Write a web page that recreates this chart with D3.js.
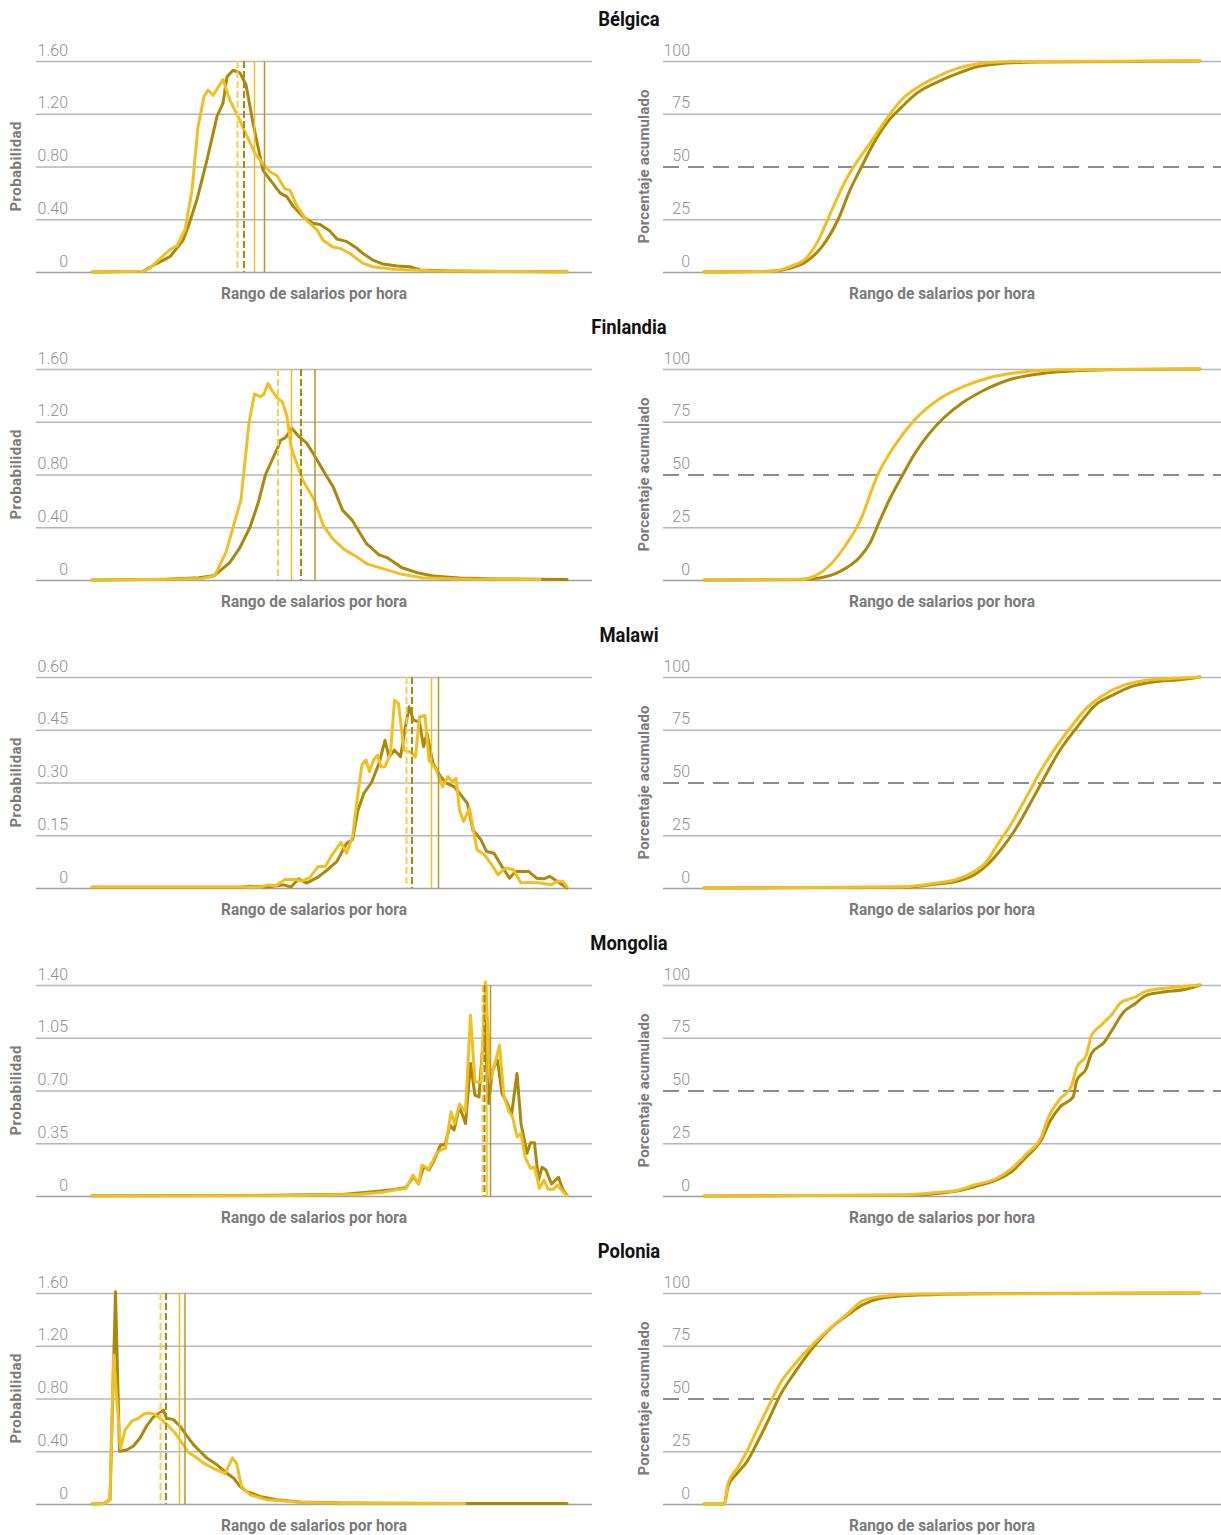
<!DOCTYPE html>
<html>
<head>
<meta charset="utf-8">
<script src="https://cdn.jsdelivr.net/npm/d3@7"></script>
<style>
  body { margin: 0; background: #fff; }
  svg { display: block; }
  .tick-label { font-family: Roboto, "Open Sans", sans-serif; font-weight: 300; font-size: 16px; fill: #8f8f8f; }
  .axis-title { font-family: Roboto, "Liberation Sans Narrow", sans-serif; font-weight: bold; font-size: 16px; fill: #7a7a7a; }
  .y-title { font-size: 15px; }
  .panel-title { font-family: Roboto, "Liberation Sans Narrow", sans-serif; font-weight: bold; font-size: 20px; fill: #111; }
</style>
</head>
<body>
<svg id="chart" width="1221" height="1535"></svg>
<script>
// ---- Data -------------------------------------------------------------
// x values are wage-range bins (0-95); A = dark series, B = light series
const countries = ["Bélgica", "Finlandia", "Malawi", "Mongolia", "Polonia"];
const densityTicks = [
  [0, 0.40, 0.80, 1.20, 1.60],
  [0, 0.40, 0.80, 1.20, 1.60],
  [0, 0.15, 0.30, 0.45, 0.60],
  [0, 0.35, 0.70, 1.05, 1.40],
  [0, 0.40, 0.80, 1.20, 1.60]
];
const cumulativeTicks = [0, 25, 50, 75, 100];

// medians (dashed) and means (solid), in bins
const medianA = [30.4, 41.8, 64.0, 78.5, 14.8];
const medianB = [29.1, 37.2, 62.9, 78.1, 13.7];
const meanA   = [34.5, 44.6, 69.3, 79.7, 18.6];
const meanB   = [32.5, 39.9, 67.9, 79.0, 17.5];

const belgicaDensA = [[0,0],[10.2,0.005],[13,0.066],[15.6,0.116],[18.2,0.24],[19.2,0.34],[21,0.55],[23,0.85],[25,1.18],[26.2,1.28],[27,1.48],[28.2,1.53],[29.6,1.51],[30.8,1.42],[32.2,1.13],[33.2,0.95],[34.2,0.77],[35.6,0.70],[37.6,0.60],[39,0.57],[40.2,0.50],[42.2,0.42],[44.2,0.37],[45.6,0.36],[47.6,0.31],[49,0.25],[51,0.23],[53,0.18],[54.2,0.14],[56.2,0.09],[58.2,0.06],[61,0.045],[63.6,0.04],[65.6,0.015],[71.6,0.008],[81.6,0.004],[95,0.002]];
const belgicaDensB = [[0,0],[10.2,0.005],[11.6,0.03],[13,0.08],[15.6,0.17],[17,0.20],[18.6,0.32],[20,0.62],[21.2,1.10],[22.4,1.33],[23.2,1.38],[24.2,1.34],[26.2,1.46],[27.6,1.30],[29.2,1.18],[31,1.03],[32.6,0.90],[34.2,0.82],[35.6,0.76],[37,0.73],[38.6,0.63],[39.6,0.62],[41,0.50],[43,0.39],[45,0.32],[46.2,0.24],[48.2,0.19],[49.6,0.18],[51.6,0.14],[54.2,0.066],[56.2,0.04],[60.2,0.02],[67.6,0.01],[81.6,0.004],[95,0.002]];

const finlandiaDensA = [[0,0],[15,0.005],[21.4,0.018],[24.5,0.035],[27.5,0.13],[29.5,0.24],[31.6,0.40],[33.2,0.58],[34.7,0.80],[37.1,1.0],[37.7,1.06],[38.7,1.08],[40.0,1.15],[41.3,1.09],[42.9,1.04],[44.4,0.95],[46.7,0.80],[48.2,0.71],[50.1,0.53],[52.1,0.45],[54.8,0.28],[57.4,0.19],[59,0.17],[62,0.093],[65.1,0.055],[68.2,0.03],[73.5,0.015],[81.2,0.008],[95,0.004]];
const finlandiaDensB = [[0,0],[15,0.005],[22,0.012],[24.5,0.03],[26.8,0.21],[28.3,0.41],[29.8,0.61],[31.4,1.19],[32.5,1.41],[33.7,1.39],[34.4,1.41],[35.2,1.49],[36.1,1.43],[37.1,1.38],[38.1,1.35],[39.0,1.24],[39.8,1.01],[40.9,0.89],[42.1,0.76],[44.4,0.61],[46.3,0.41],[48.2,0.31],[50.5,0.23],[52.8,0.18],[55.1,0.12],[58.2,0.086],[62,0.043],[65.9,0.018],[73.5,0.008],[89.6,0.003]];

const malawiDensA = [[0,0.002],[30,0.002],[31.4,0.005],[35.2,0.003],[38.3,0.009],[39.8,0.003],[41.3,0.026],[42.9,0.014],[45.2,0.031],[47.1,0.052],[49.0,0.076],[50.9,0.127],[52.1,0.137],[53.2,0.222],[54.4,0.27],[55.9,0.30],[57.4,0.354],[58.6,0.42],[59.4,0.373],[60.5,0.392],[61.7,0.373],[62.8,0.468],[63.4,0.515],[64.3,0.477],[65.5,0.472],[66.3,0.402],[67.0,0.44],[68.2,0.354],[69.7,0.317],[70.9,0.298],[72.4,0.288],[73.5,0.27],[75.1,0.24],[76.2,0.165],[77.8,0.137],[78.9,0.104],[80.4,0.099],[82,0.061],[83.5,0.028],[84.7,0.047],[87.3,0.047],[88.9,0.028],[90.4,0.026],[91.6,0.033],[93.5,0.014],[95,0]];
const malawiDensB = [[0,0.003],[16.8,0.003],[30.6,0.003],[33.7,0.003],[35.2,0.009],[36.7,0.006],[38.6,0.024],[40.6,0.024],[42.1,0.02],[43.6,0.03],[45.2,0.061],[46.7,0.061],[47.8,0.09],[49.8,0.13],[50.9,0.099],[52.1,0.146],[53.2,0.269],[54,0.35],[54.8,0.364],[55.5,0.331],[56.3,0.364],[57.1,0.378],[57.8,0.345],[58.6,0.345],[59.7,0.383],[60.5,0.534],[61.3,0.524],[62.4,0.392],[63.6,0.387],[64.7,0.373],[65.5,0.487],[66.6,0.491],[67.4,0.364],[68.9,0.335],[70.1,0.288],[71.2,0.317],[72,0.302],[72.8,0.312],[73.5,0.222],[74.3,0.189],[75.5,0.227],[77,0.109],[78.5,0.094],[79.7,0.071],[81.2,0.038],[82.7,0.057],[84.3,0.052],[85.8,0.014],[87.3,0.016],[89.6,0.014],[91.9,0.009],[93.1,0.019],[94.2,0.019],[95,0.004]];

const mongoliaDensA = [[0,0.002],[30,0.003],[40,0.006],[50.5,0.012],[55.1,0.025],[58.2,0.035],[60.5,0.044],[62.8,0.057],[64.3,0.128],[65.3,0.08],[66.3,0.194],[67.4,0.172],[68.6,0.25],[69.7,0.338],[70.6,0.338],[71.6,0.47],[72.4,0.437],[73.5,0.592],[74.7,0.481],[75.7,0.879],[76.6,0.669],[77.4,0.658],[78.5,1.166],[79.3,0.614],[80.1,0.835],[81.1,0.901],[82,0.68],[83.1,0.614],[83.9,0.537],[85,0.813],[85.8,0.481],[87,0.283],[87.7,0.353],[88.5,0.353],[89.3,0.106],[90,0.19],[90.8,0.172],[91.9,0.08],[93.3,0.124],[94.2,0.04],[95,0.004]];
const mongoliaDensB = [[0,0.002],[30,0.002],[40,0.004],[50.5,0.01],[53.6,0.012],[58.2,0.025],[60.5,0.04],[62.8,0.05],[64.2,0.139],[65.3,0.08],[66,0.205],[67.3,0.177],[68.9,0.283],[69.7,0.305],[70.7,0.316],[71.8,0.559],[72.5,0.481],[73.5,0.61],[74.7,0.559],[75.7,1.199],[76.6,0.757],[77.8,0.757],[78.7,1.42],[79.7,0.768],[80.4,0.857],[81.5,1.0],[82.4,0.658],[83.4,0.559],[84.1,0.526],[85,0.393],[85.8,0.415],[86.6,0.26],[87.7,0.183],[88.5,0.194],[89.5,0.051],[90.4,0.106],[91.2,0.044],[92.3,0.044],[93.1,0.073],[94.2,0.029],[95,0]];

const poloniaDensA = [[0,0],[2.3,0.003],[3.6,0.033],[4.7,1.61],[5.5,0.40],[6.9,0.41],[8.3,0.44],[9.6,0.50],[10.9,0.59],[12.3,0.66],[13.5,0.69],[14.3,0.71],[14.9,0.65],[16.3,0.64],[17.6,0.59],[18.9,0.52],[20.3,0.45],[21.6,0.40],[22.9,0.35],[24.9,0.30],[26.9,0.235],[28.3,0.197],[29.6,0.134],[30.9,0.096],[33.6,0.058],[36.9,0.033],[41.6,0.015],[50,0.008],[70,0.004],[95,0.003]];
const poloniaDensB = [[0,0],[2.3,0.003],[3.6,0.033],[4.3,1.13],[5.7,0.42],[6.6,0.56],[8,0.63],[9.3,0.65],[10.3,0.68],[11.3,0.69],[12.6,0.68],[13.9,0.64],[15.3,0.59],[16.6,0.54],[17.9,0.47],[19.3,0.39],[20.6,0.36],[22.3,0.31],[24.3,0.27],[26.6,0.23],[28.1,0.35],[28.9,0.31],[29.9,0.134],[31.6,0.07],[34.9,0.033],[41.6,0.013],[50,0.006],[74.6,0.003]];

const belgicaCumA = [[0,0],[12.8,0.3],[16.6,1.9],[19.6,5],[22.6,12],[25.7,25],[28,39],[30.2,50],[32.5,61],[34.8,70],[37.8,78],[40.9,85],[44.7,90],[48.5,94],[52.3,97.3],[56.1,98.6],[63.7,99.5],[95,100]];
const belgicaCumB = [[0,0],[12.8,0.3],[16.6,2.7],[19.6,6.6],[21.9,15],[24.5,29.5],[27.2,43.7],[29.5,53],[31.8,61],[34.8,72],[37.8,81.5],[40.9,87.5],[44.7,92.6],[48.5,96.5],[52.3,98.6],[56.1,99.5],[63.7,99.8],[95,100]];

const finlandiaCumA = [[0,0],[18.4,0.2],[22.2,1],[26,4],[29.9,11],[31.8,17.5],[33.3,26],[35.6,38.5],[38.1,50],[40.4,60],[43,69],[46,77],[49.5,84],[52.9,89],[58.6,95],[64.4,97.8],[72,99.3],[79.7,99.8],[95,100]];
const finlandiaCumB = [[0,0],[18.4,0.3],[21.3,2],[24.1,7],[27,16],[29.9,28],[33.3,50],[36.6,64],[40.4,76],[45.2,86],[50,92],[54.8,96],[60.5,98.5],[68.2,99.6],[95,100]];

const malawiCumA = [[0,0],[37.5,0.3],[44.6,1.9],[48.2,3.1],[51.8,6.3],[54.6,11.8],[56.8,18],[59.6,27.6],[63.2,43.3],[65.3,52.8],[68.2,65.4],[71,74.8],[75.3,87.4],[78.2,91.3],[81.7,95.3],[86,97.6],[91,98.7],[95,100]];
const malawiCumB = [[0,0],[37.5,0.5],[44.6,2.4],[48.2,3.9],[51.8,7.9],[53.9,11.8],[56,19.7],[58.9,30.7],[62.5,46.5],[64.6,56],[67.5,67],[70.3,76.4],[73.2,85],[76,90.6],[80.3,96],[83.9,98.1],[88.9,99.2],[95,100]];

const mongoliaCumA = [[0,0],[37.5,0.3],[48.2,2.2],[51.8,4.4],[56,7.6],[58.9,11.5],[61.8,18.6],[64.6,26.5],[66.4,36],[68.2,42.2],[70.7,47],[71.4,54.8],[73.2,60.3],[74.2,67.4],[76.7,73],[78.5,80],[80.3,87],[82.5,91],[84.6,95],[87.5,96.5],[92.5,98.1],[95,100]];
const mongoliaCumB = [[0,0],[37.5,0.5],[44.6,1.7],[48.2,2.5],[51.8,5.2],[56,8.3],[58.9,13],[61.8,20],[64.6,28],[66,37.5],[68.2,46],[70.3,51.7],[71.4,61],[73.2,66.6],[74.2,76],[76,80.8],[78.2,86.3],[79.9,91.8],[82.5,94.2],[84.6,97],[88.9,98.6],[95,100]];

const poloniaCumA = [[0,0],[3.9,0],[4.6,8.3],[6.4,14.6],[8.2,20],[10.3,29.6],[12.5,40.6],[14.6,51.6],[17.5,62.7],[21,74.5],[24.6,84],[27.5,89.5],[30.3,94.3],[33.9,97.5],[41,99],[51.8,99.7],[95,100]];
const poloniaCumB = [[0,0],[3.9,0],[4.6,9.9],[6.4,17],[8.2,24.9],[10.3,35.9],[12.5,47],[14.6,57.2],[17.5,66.6],[21,76],[24.6,84.3],[27.5,90.2],[30.3,96.2],[33.9,98.4],[41,99.5],[95,100]];

const densityA = [belgicaDensA, finlandiaDensA, malawiDensA, mongoliaDensA, poloniaDensA];
const densityB = [belgicaDensB, finlandiaDensB, malawiDensB, mongoliaDensB, poloniaDensB];
const cumulativeA = [belgicaCumA, finlandiaCumA, malawiCumA, mongoliaCumA, poloniaCumA];
const cumulativeB = [belgicaCumB, finlandiaCumB, malawiCumB, mongoliaCumB, poloniaCumB];

// ---- Layout -----------------------------------------------------------
const colorA = "#a9880a";
const colorB = "#f0bf22";
const rowStep = 308;
const plotTop = 61, plotBottom = 272;
const left  = { gridX0: 36,  gridX1: 592,  dataX0: 92,  dataX1: 567,  labelX: 68,  yTitleX: 21,  yTitleLen: 90 };
const right = { gridX0: 663, gridX1: 1221, dataX0: 704, dataX1: 1200, labelX: 690, yTitleX: 649, yTitleLen: 154 };
const xTitleLen = 186;     // condensed width of the x-axis title
const titleSqueeze = 0.92; // condensing factor for country titles

const svg = d3.select("#chart");
const fmtDensity = d => d === 0 ? "0" : d3.format(".2f")(d);

function drawGrid(g, panel, y, ticks, fmt, dashedValue) {
  const axis = d3.axisRight(y)
    .tickValues(ticks)
    .tickSize(panel.gridX1 - panel.gridX0)
    .tickFormat(fmt);
  const ag = g.append("g")
    .attr("transform", `translate(${panel.gridX0},0)`)
    .call(axis);
  ag.select(".domain").remove();
  ag.selectAll(".tick line")
    .attr("stroke", d => d === dashedValue ? "#8c8c8c" : (d === 0 ? "#a0a0a0" : "#b6b6b6"))
    .attr("stroke-width", d => d === dashedValue ? 2 : 1.3)
    .attr("stroke-dasharray", d => d === dashedValue ? "16,9" : null);
  ag.selectAll(".tick text")
    .attr("class", "tick-label")
    .attr("x", panel.labelX - panel.gridX0)
    .attr("y", -6)
    .attr("dy", 0)
    .attr("text-anchor", "end")
    .attr("fill", null);
  ag.attr("font-size", null).attr("font-family", null);
}

function drawTitles(g, panel, yLabel) {
  g.append("text")
    .attr("class", "axis-title")
    .attr("x", (panel.gridX0 + panel.gridX1) / 2)
    .attr("y", 299)
    .attr("text-anchor", "middle")
    .attr("textLength", xTitleLen)
    .attr("lengthAdjust", "spacingAndGlyphs")
    .text("Rango de salarios por hora");
  g.append("text")
    .attr("class", "axis-title y-title")
    .attr("transform", `translate(${panel.yTitleX},${(plotTop + plotBottom) / 2}) rotate(-90)`)
    .attr("text-anchor", "middle")
    .attr("textLength", panel.yTitleLen)
    .attr("lengthAdjust", "spacing")
    .text(yLabel);
}

countries.forEach((name, i) => {
  const row = svg.append("g").attr("transform", `translate(0,${i * rowStep})`);

  const title = row.append("text")
    .attr("class", "panel-title")
    .attr("x", 629)
    .attr("y", 26)
    .attr("text-anchor", "middle")
    .text(name);
  const natural = title.node().getComputedTextLength();
  title.attr("textLength", natural * titleSqueeze).attr("lengthAdjust", "spacingAndGlyphs");

  // --- density panel
  const ticks = densityTicks[i];
  const yD = d3.scaleLinear().domain([0, ticks[ticks.length - 1]]).range([plotBottom, plotTop]);
  const xD = d3.scaleLinear().domain([0, 95]).range([left.dataX0, left.dataX1]);
  const gL = row.append("g");
  drawGrid(gL, left, yD, ticks, fmtDensity, null);
  drawTitles(gL, left, "Probabilidad");

  const lineD = d3.line().x(d => xD(d[0])).y(d => yD(d[1]));
  [[densityA[i], colorA], [densityB[i], colorB]].forEach(([data, c]) => {
    gL.append("path")
      .datum(data)
      .attr("d", lineD)
      .attr("fill", "none")
      .attr("stroke", c)
      .attr("stroke-width", 3)
      .attr("stroke-linejoin", "round")
      .attr("stroke-linecap", "round");
  });

  const refs = [
    { v: medianB[i], color: "#f5cf55", w: 2, dash: "7,3" },
    { v: medianA[i], color: colorA,   w: 2, dash: "7,3" },
    { v: meanB[i],   color: colorB,   w: 1.5, dash: null },
    { v: meanA[i],   color: "#b8962a", w: 1.5, dash: null }
  ];
  gL.selectAll("line.ref")
    .data(refs)
    .join("line")
    .attr("class", "ref")
    .attr("x1", d => xD(d.v)).attr("x2", d => xD(d.v))
    .attr("y1", yD.range()[1]).attr("y2", yD.range()[0])
    .attr("stroke", d => d.color)
    .attr("stroke-width", d => d.w)
    .attr("stroke-dasharray", d => d.dash);

  // --- cumulative panel
  const yC = d3.scaleLinear().domain([0, 100]).range([plotBottom, plotTop]);
  const xC = d3.scaleLinear().domain([0, 95]).range([right.dataX0, right.dataX1]);
  const gR = row.append("g");
  drawGrid(gR, right, yC, cumulativeTicks, d => String(d), 50);
  drawTitles(gR, right, "Porcentaje acumulado");

  const lineC = d3.line().x(d => xC(d[0])).y(d => yC(d[1])).curve(d3.curveMonotoneX);
  [[cumulativeA[i], colorA], [cumulativeB[i], colorB]].forEach(([data, c]) => {
    gR.append("path")
      .datum(data)
      .attr("d", lineC)
      .attr("fill", "none")
      .attr("stroke", c)
      .attr("stroke-width", 3)
      .attr("stroke-linejoin", "round")
      .attr("stroke-linecap", "round");
  });
});
</script>
</body>
</html>
